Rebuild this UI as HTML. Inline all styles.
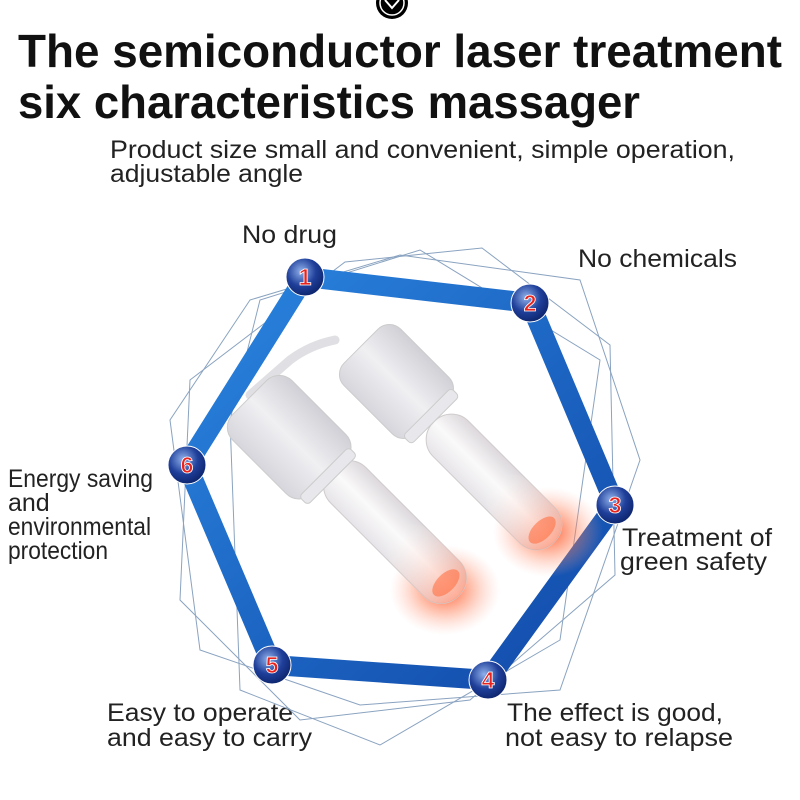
<!DOCTYPE html>
<html><head><meta charset="utf-8"><style>html,body{margin:0;padding:0;background:#fff}svg{display:block}</style></head>
<body>
<svg width="800" height="800" viewBox="0 0 800 800" xmlns="http://www.w3.org/2000/svg">
<defs>
<linearGradient id="edge" x1="0" y1="0" x2="1" y2="1"><stop offset="0" stop-color="#2a86e0"/><stop offset="1" stop-color="#1148a8"/></linearGradient>
<radialGradient id="node" cx="0.4" cy="0.35" r="0.7"><stop offset="0" stop-color="#8fb0ea"/><stop offset="0.55" stop-color="#1f3f9a"/><stop offset="1" stop-color="#0b2268"/></radialGradient>
<radialGradient id="glow" cx="0.5" cy="0.5" r="0.5"><stop offset="0" stop-color="#ff4a1a" stop-opacity="0.9"/><stop offset="0.5" stop-color="#ff7a50" stop-opacity="0.45"/><stop offset="1" stop-color="#ffb0a0" stop-opacity="0"/></radialGradient>
<linearGradient id="tube" x1="0" y1="0" x2="1" y2="0"><stop offset="0" stop-color="#e6e4e8"/><stop offset="0.5" stop-color="#fbfafa"/><stop offset="1" stop-color="#dcd8dc"/></linearGradient>
<linearGradient id="tubeGlow" x1="0" y1="0" x2="0" y2="1"><stop offset="0" stop-color="#fff" stop-opacity="0"/><stop offset="1" stop-color="#ff8a6a" stop-opacity="0.7"/></linearGradient>
<linearGradient id="cap" x1="0" y1="0" x2="1" y2="0"><stop offset="0" stop-color="#d6d6dc"/><stop offset="0.5" stop-color="#f0f0f3"/><stop offset="1" stop-color="#d0d0d6"/></linearGradient>
</defs>
<circle cx="392" cy="3" r="16" fill="#000"/><circle cx="392" cy="3" r="12" fill="none" stroke="#fff" stroke-width="1.5"/>
<path d="M385 0 L392 8 L399 0" fill="none" stroke="#fff" stroke-width="2"/>
<g font-family="'Liberation Sans',sans-serif" fill="#111">
<text x="18" y="67" font-size="46" font-weight="bold" textLength="764" lengthAdjust="spacingAndGlyphs">The semiconductor laser treatment</text>
<text x="18" y="118" font-size="46" font-weight="bold" textLength="622" lengthAdjust="spacingAndGlyphs">six characteristics massager</text>
<g font-size="25" fill="#222">
<text x="110" y="158" textLength="625" lengthAdjust="spacingAndGlyphs">Product size small and convenient, simple operation,</text>
<text x="110" y="182" textLength="193" lengthAdjust="spacingAndGlyphs">adjustable angle</text>
<text x="242" y="243" textLength="95" lengthAdjust="spacingAndGlyphs">No drug</text>
<text x="578" y="267" textLength="159" lengthAdjust="spacingAndGlyphs">No chemicals</text>
<text x="8" y="487" textLength="145" lengthAdjust="spacingAndGlyphs">Energy saving</text>
<text x="8" y="511">and</text>
<text x="8" y="535" textLength="143" lengthAdjust="spacingAndGlyphs">environmental</text>
<text x="8" y="559" textLength="100" lengthAdjust="spacingAndGlyphs">protection</text>
<text x="622" y="546" textLength="150" lengthAdjust="spacingAndGlyphs">Treatment of</text>
<text x="620" y="570" textLength="147" lengthAdjust="spacingAndGlyphs">green safety</text>
<text x="107" y="721" textLength="186" lengthAdjust="spacingAndGlyphs">Easy to operate</text>
<text x="107" y="746" textLength="205" lengthAdjust="spacingAndGlyphs">and easy to carry</text>
<text x="507" y="721" textLength="216" lengthAdjust="spacingAndGlyphs">The effect is good,</text>
<text x="505" y="746" textLength="228" lengthAdjust="spacingAndGlyphs">not easy to relapse</text>
</g></g>
<g fill="none" stroke="#8aa3c0" stroke-width="1">
<polygon points="345,262 482,248 610,345 615,575 470,700 300,720 180,600 190,380"/>
<polygon points="250,300 400,255 580,280 640,460 560,690 360,705 200,650 170,420"/>
<polygon points="230,420 260,300 420,250 600,360 560,640 380,745 240,690"/>
</g>
<polygon points="305,277 530,303 615,505 488,680 272,665 187,465" fill="none" stroke="url(#edge)" stroke-width="20" stroke-linejoin="miter"/>
<path d="M335 340 Q310 345 290 360 L250 395" stroke="#e0e0e4" stroke-width="9" fill="none" stroke-linecap="round"/>
<ellipse cx="445" cy="590" rx="55" ry="45" fill="url(#glow)"/>
<ellipse cx="548" cy="532" rx="55" ry="45" fill="url(#glow)"/>
<g transform="translate(494,482) rotate(-45)">
<rect x="-25" y="-85" width="50" height="170" rx="24" fill="url(#tube)" stroke="#d0cccc"/>
<rect x="-25" y="0" width="50" height="85" rx="24" fill="url(#tubeGlow)"/>
<ellipse cx="0" cy="68" rx="17" ry="9" fill="#ff6a3a" opacity="0.55"/>
</g>
<g transform="translate(395,532) rotate(-45)">
<rect x="-25" y="-90" width="50" height="180" rx="24" fill="url(#tube)" stroke="#d0cccc"/>
<rect x="-25" y="0" width="50" height="90" rx="24" fill="url(#tubeGlow)"/>
<ellipse cx="0" cy="72" rx="17" ry="9" fill="#ff6a3a" opacity="0.55"/>
</g>
<g transform="translate(400,385) rotate(-45)"><rect x="-40" y="-55" width="80" height="100" rx="16" fill="url(#cap)" stroke="#ccc"/><rect x="-34" y="38" width="68" height="12" rx="4" fill="#e8e8ec" stroke="#ccc"/></g>
<g transform="translate(292,440) rotate(-45)"><rect x="-42" y="-60" width="84" height="112" rx="18" fill="url(#cap)" stroke="#ccc"/><rect x="-35" y="45" width="70" height="12" rx="4" fill="#e8e8ec" stroke="#ccc"/></g>
<g font-family="'Liberation Sans',sans-serif" font-weight="bold" font-size="23" fill="#e8231e" text-anchor="middle" stroke="#fff" stroke-width="0.8">
<circle cx="305" cy="277" r="19" fill="url(#node)" stroke="#fff" stroke-width="1"/><text x="305" y="285">1</text>
<circle cx="530" cy="303" r="19" fill="url(#node)" stroke="#fff" stroke-width="1"/><text x="530" y="311">2</text>
<circle cx="615" cy="505" r="19" fill="url(#node)" stroke="#fff" stroke-width="1"/><text x="615" y="513">3</text>
<circle cx="488" cy="680" r="19" fill="url(#node)" stroke="#fff" stroke-width="1"/><text x="488" y="688">4</text>
<circle cx="272" cy="665" r="19" fill="url(#node)" stroke="#fff" stroke-width="1"/><text x="272" y="673">5</text>
<circle cx="187" cy="465" r="19" fill="url(#node)" stroke="#fff" stroke-width="1"/><text x="187" y="473">6</text>
</g>
</svg>
</body></html>
